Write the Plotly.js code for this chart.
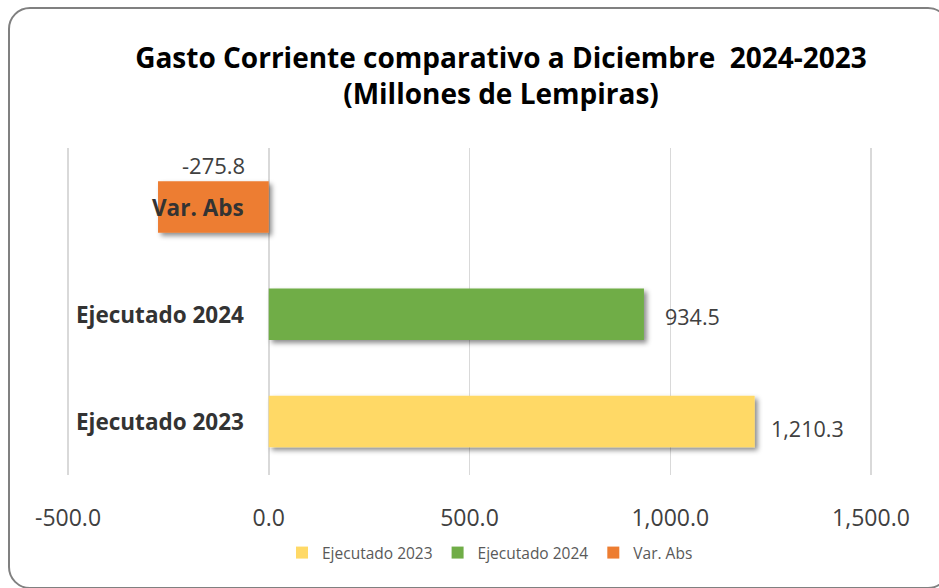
<!DOCTYPE html>
<html>
<head>
<meta charset="utf-8">
<script src="https://cdn.plot.ly/plotly-3.0.1.min.js"></script>
<style>
  html, body { margin: 0; padding: 0; background: #fff; overflow: hidden; }
  #wrap { position: relative; width: 939px; height: 588px; overflow: hidden; }
  #chart { width: 939px; height: 588px; }
  #frame { position: absolute; left: 8px; top: 7px; width: 942px; height: 582px;
           border: 2.5px solid #808080; border-radius: 22px; pointer-events: none; box-sizing: border-box; }
</style>
</head>
<body>
<div id="wrap">
  <div id="chart"></div>
  <div id="frame"></div>
</div>
<script>
// ---- Data ----
const categories = ['Ejecutado 2023', 'Ejecutado 2024', 'Var. Abs'];
const seriesNames = ['Ejecutado 2023', 'Ejecutado 2024', 'Var. Abs'];
const seriesValues = [1210.3, 934.5, -275.8];
const seriesColors = ['#FFD966', '#70AD47', '#ED7D31'];
const xTickValues = [-500, 0, 500, 1000, 1500];
const xTickLabels = ['-500.0', '0.0', '500.0', '1,000.0', '1,500.0'];

function fmt(v) {
  return v.toLocaleString('en-US', {minimumFractionDigits: 1, maximumFractionDigits: 1});
}

const FONT = '"Open Sans", "Noto Sans", sans-serif';

const traces = seriesNames.map((name, i) => ({
  type: 'bar',
  orientation: 'h',
  name: name,
  y: [categories[i]],
  x: [seriesValues[i]],
  marker: { color: seriesColors[i], line: { width: 0 } },
  hoverinfo: 'x+name'
}));

const annotations = [];
// category labels next to the zero axis
categories.forEach((c) => {
  annotations.push({
    xref: 'x', yref: 'y', x: 0, y: c, xanchor: 'right', yanchor: 'middle',
    xshift: -23, text: '<b>' + c + '</b>', showarrow: false,
    font: { family: FONT, size: 22.5, color: '#333333' }
  });
});
// data labels
seriesValues.forEach((v, i) => {
  if (v >= 0) {
    annotations.push({
      xref: 'x', yref: 'y', x: v, y: categories[i], xanchor: 'left', yanchor: 'middle',
      xshift: i === 0 ? 14 : 19, yshift: i === 0 ? -7 : -2,
      text: fmt(v), showarrow: false,
      font: { family: FONT, size: 21.5, color: '#404040' }
    });
  } else {
    annotations.push({
      xref: 'x', yref: 'y', x: v / 2, y: categories[i], xanchor: 'center', yanchor: 'middle',
      yshift: 42, text: fmt(v), showarrow: false,
      font: { family: FONT, size: 22, color: '#404040' }
    });
  }
});

const layout = {
  width: 939, height: 588,
  paper_bgcolor: 'rgba(0,0,0,0)', plot_bgcolor: 'rgba(0,0,0,0)',
  margin: { l: 66, r: 66, t: 148, b: 113 },
  font: { family: FONT, color: '#404040' },
  title: {
    text: '<b>Gasto Corriente comparativo a Diciembre  2024-2023<br>(Millones de Lempiras)</b>',
    font: { family: FONT, size: 28, color: '#000000' },
    x: 501 / 939, xanchor: 'center', xref: 'container',
    y: 1 - 68 / 588, yanchor: 'top', yref: 'container'
  },
  barmode: 'relative',
  bargap: 0.52,
  xaxis: {
    range: [-505, 1505],
    tickvals: xTickValues, ticktext: xTickLabels,
    showgrid: true, gridcolor: '#D9D9D9', gridwidth: 1.5,
    zeroline: true, zerolinecolor: '#D9D9D9', zerolinewidth: 1.5,
    showline: false,
    ticks: 'outside', ticklen: 22, tickcolor: 'rgba(0,0,0,0)',
    tickfont: { family: FONT, size: 23, color: '#404040' },
    fixedrange: true
  },
  yaxis: {
    type: 'category', categoryorder: 'array', categoryarray: categories,
    showticklabels: false, showgrid: false, zeroline: false, showline: false, ticks: '',
    fixedrange: true
  },
  showlegend: true,
  legend: {
    orientation: 'h', x: (490 - 66) / 807, xanchor: 'center',
    y: (475 - 553) / 327, yanchor: 'middle',
    font: { family: FONT, size: 15.5, color: '#595959' },
    traceorder: 'normal', itemwidth: 30
  },
  annotations: annotations
};

Plotly.newPlot('chart', traces, layout, { displayModeBar: false, staticPlot: true }).then(() => {
  // subtle drop shadow like the original
  const svg = document.querySelector('#chart svg.main-svg');
  const ns = 'http://www.w3.org/2000/svg';
  let defs = svg.querySelector('defs');
  if (!defs) { defs = document.createElementNS(ns, 'defs'); svg.insertBefore(defs, svg.firstChild); }
  const f = document.createElementNS(ns, 'filter');
  f.setAttribute('id', 'barshadow');
  f.setAttribute('x', '-10%'); f.setAttribute('y', '-20%');
  f.setAttribute('width', '130%'); f.setAttribute('height', '160%');
  f.innerHTML = '<feDropShadow dx="3" dy="3" stdDeviation="2.5" flood-color="#000" flood-opacity="0.45"/>';
  defs.appendChild(f);
  document.querySelectorAll('#chart .barlayer .point path').forEach(p => p.setAttribute('filter', 'url(#barshadow)'));
});
</script>
</body>
</html>
